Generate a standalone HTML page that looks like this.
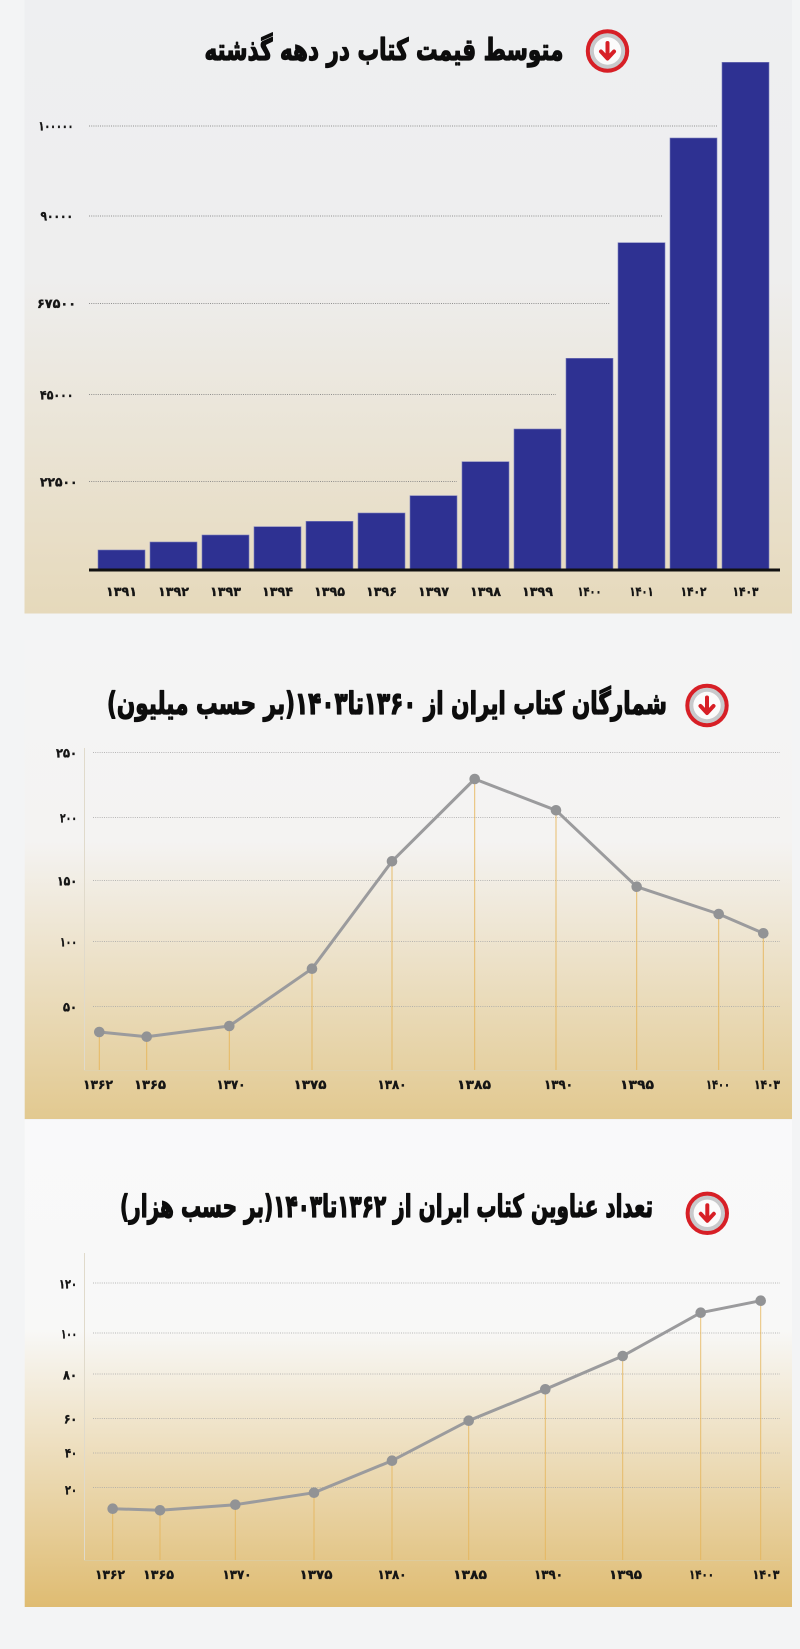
<!DOCTYPE html>
<html>
<head>
<meta charset="utf-8">
<style>
html,body{margin:0;padding:0;background:#f3f4f5;}
svg{display:block;}
.t{font-family:"DejaVu Sans","Liberation Sans",sans-serif;font-weight:bold;fill:#0d0d0d;stroke:#0d0d0d;stroke-width:1.3;stroke-linejoin:round;}
.lb{font-family:"DejaVu Sans","Liberation Sans",sans-serif;font-weight:bold;fill:#151515;stroke:#151515;stroke-width:0.35;font-size:13px;}
</style>
</head>
<body>
<svg width="800" height="1649" viewBox="0 0 800 1649" xmlns="http://www.w3.org/2000/svg">
<defs>
<linearGradient id="g1" gradientUnits="userSpaceOnUse" x1="0" y1="0" x2="0" y2="613">
<stop offset="0" stop-color="#eeeff1"/>
<stop offset="0.45" stop-color="#eeeeee"/>
<stop offset="1" stop-color="#e6d9bb"/>
</linearGradient>
<linearGradient id="g2" gradientUnits="userSpaceOnUse" x1="0" y1="640" x2="0" y2="1119">
<stop offset="0" stop-color="#f4f4f5"/>
<stop offset="0.42" stop-color="#f4f3f2"/>
<stop offset="1" stop-color="#e2c990"/>
</linearGradient>
<linearGradient id="g3" gradientUnits="userSpaceOnUse" x1="0" y1="1120" x2="0" y2="1607">
<stop offset="0" stop-color="#f9f9fa"/>
<stop offset="0.43" stop-color="#f8f8f7"/>
<stop offset="1" stop-color="#dfbc72"/>
</linearGradient>
<g id="icon">
<circle r="19.7" fill="#c8c9cb" stroke="#d71f26" stroke-width="4"/>
<circle r="13.7" fill="#fbfbfb"/>
<path d="M0,-8 V7" stroke="#d71f26" stroke-width="4" stroke-linecap="round" fill="none"/>
<path d="M-6.5,0.5 L0,7.5 L6.5,0.5" stroke="#d71f26" stroke-width="4" stroke-linecap="round" stroke-linejoin="round" fill="none"/>
</g>
</defs>

<rect x="0" y="0" width="800" height="1649" fill="#f3f4f5"/>

<!-- ============ CARD 1 ============ -->
<rect x="24.5" y="0" width="767.5" height="613.5" fill="url(#g1)"/>
<text class="t" x="384" y="60" font-size="30" text-anchor="middle" direction="rtl" textLength="359" lengthAdjust="spacingAndGlyphs">متوسط قیمت کتاب در دهه گذشته</text>
<use href="#icon" x="607.5" y="51"/>

<g stroke="#808080" stroke-width="1" stroke-dasharray="1 1.2" opacity="0.85">
<line x1="89" y1="126" x2="717" y2="126"/>
<line x1="89" y1="216" x2="662" y2="216"/>
<line x1="89" y1="303.5" x2="610" y2="303.5"/>
<line x1="89" y1="394.5" x2="556" y2="394.5"/>
<line x1="89" y1="481.5" x2="457" y2="481.5"/>
</g>
<g class="lb" font-size="13">
<text x="38.5" y="130.5" textLength="35" lengthAdjust="spacingAndGlyphs">۱۰۰۰۰۰</text>
<text x="40.5" y="220.5" textLength="32.5" lengthAdjust="spacingAndGlyphs">۹۰۰۰۰</text>
<text x="37" y="308" textLength="39" lengthAdjust="spacingAndGlyphs">۶۷۵۰۰</text>
<text x="40" y="399.5" textLength="33.5" lengthAdjust="spacingAndGlyphs">۴۵۰۰۰</text>
<text x="40" y="486.5" textLength="37.5" lengthAdjust="spacingAndGlyphs">۲۲۵۰۰</text>
</g>

<g fill="#2e3192" stroke="#7b7dbb" stroke-width="0.6">
<rect x="98" y="550" width="47" height="19"/>
<rect x="150" y="542" width="47" height="27"/>
<rect x="202" y="535" width="47" height="34"/>
<rect x="254" y="526.7" width="47" height="42.3"/>
<rect x="306" y="521.3" width="47" height="47.7"/>
<rect x="358" y="513" width="47" height="56"/>
<rect x="410" y="495.7" width="47" height="73.3"/>
<rect x="462" y="461.7" width="47" height="107.3"/>
<rect x="514" y="429" width="47" height="140"/>
<rect x="566" y="358.3" width="47" height="210.7"/>
<rect x="618" y="242.7" width="47" height="326.3"/>
<rect x="670" y="138" width="47" height="431"/>
<rect x="722" y="62.3" width="47" height="506.7"/>
</g>
<line x1="89" y1="570" x2="780" y2="570" stroke="#111" stroke-width="3"/>
<g class="lb" font-size="15" text-anchor="middle">
<text x="121.5" y="596" textLength="31" lengthAdjust="spacingAndGlyphs">۱۳۹۱</text>
<text x="173.5" y="596" textLength="31" lengthAdjust="spacingAndGlyphs">۱۳۹۲</text>
<text x="225.5" y="596" textLength="31" lengthAdjust="spacingAndGlyphs">۱۳۹۳</text>
<text x="277.5" y="596" textLength="31" lengthAdjust="spacingAndGlyphs">۱۳۹۴</text>
<text x="329.5" y="596" textLength="31" lengthAdjust="spacingAndGlyphs">۱۳۹۵</text>
<text x="381.5" y="596" textLength="31" lengthAdjust="spacingAndGlyphs">۱۳۹۶</text>
<text x="433.5" y="596" textLength="31" lengthAdjust="spacingAndGlyphs">۱۳۹۷</text>
<text x="485.5" y="596" textLength="31" lengthAdjust="spacingAndGlyphs">۱۳۹۸</text>
<text x="537.5" y="596" textLength="31" lengthAdjust="spacingAndGlyphs">۱۳۹۹</text>
<text x="589.5" y="596" textLength="24" lengthAdjust="spacingAndGlyphs">۱۴۰۰</text>
<text x="641.5" y="596" textLength="24" lengthAdjust="spacingAndGlyphs">۱۴۰۱</text>
<text x="693.5" y="596" textLength="26" lengthAdjust="spacingAndGlyphs">۱۴۰۲</text>
<text x="745.5" y="596" textLength="26" lengthAdjust="spacingAndGlyphs">۱۴۰۳</text>
</g>

<!-- ============ CARD 2 ============ -->
<rect x="24.7" y="640" width="767.3" height="479" fill="url(#g2)"/>
<text class="t" x="387" y="714" font-size="31" text-anchor="middle" direction="rtl" textLength="560" lengthAdjust="spacingAndGlyphs">شمارگان کتاب ایران از ۱۳۶۰تا۱۴۰۳(بر حسب میلیون)</text>
<use href="#icon" x="707" y="705.5"/>

<g stroke="#a8a8a8" stroke-width="1" stroke-dasharray="1 1.2" opacity="0.8">
<line x1="93" y1="752.5" x2="780" y2="752.5"/>
<line x1="93" y1="817.5" x2="780" y2="817.5"/>
<line x1="93" y1="880.5" x2="780" y2="880.5"/>
<line x1="93" y1="941.5" x2="780" y2="941.5"/>
<line x1="93" y1="1006.5" x2="780" y2="1006.5"/>
</g>
<line x1="84.5" y1="748" x2="84.5" y2="1070" stroke="#e0dacb" stroke-width="1"/>
<line x1="84" y1="1070.5" x2="780" y2="1070.5" stroke="#e0d2ad" stroke-width="1"/>
<g class="lb" font-size="14" text-anchor="end">
<text x="77" y="757.5" textLength="21" lengthAdjust="spacingAndGlyphs">۲۵۰</text>
<text x="77" y="822.5" textLength="17" lengthAdjust="spacingAndGlyphs">۲۰۰</text>
<text x="77" y="885.5" textLength="20" lengthAdjust="spacingAndGlyphs">۱۵۰</text>
<text x="77" y="946.5" textLength="17" lengthAdjust="spacingAndGlyphs">۱۰۰</text>
<text x="77" y="1011.5" textLength="14" lengthAdjust="spacingAndGlyphs">۵۰</text>
</g>
<g stroke="#e6b457" stroke-width="1" opacity="0.85">
<line x1="99.3" y1="1032" x2="99.3" y2="1070"/>
<line x1="146.7" y1="1036.7" x2="146.7" y2="1070"/>
<line x1="229.3" y1="1026" x2="229.3" y2="1070"/>
<line x1="312" y1="968.7" x2="312" y2="1070"/>
<line x1="392" y1="861.3" x2="392" y2="1070"/>
<line x1="474.7" y1="779" x2="474.7" y2="1070"/>
<line x1="556" y1="810.3" x2="556" y2="1070"/>
<line x1="636.7" y1="886.7" x2="636.7" y2="1070"/>
<line x1="718.7" y1="914" x2="718.7" y2="1070"/>
<line x1="763.3" y1="933.3" x2="763.3" y2="1070"/>
</g>
<polyline fill="none" stroke="#9b9b9d" stroke-width="3" stroke-linejoin="round" points="99.3,1032 146.7,1036.7 229.3,1026 312,968.7 392,861.3 474.7,779 556,810.3 636.7,886.7 718.7,914 763.3,933.3"/>
<g fill="#929395">
<circle cx="99.3" cy="1032" r="5.3"/>
<circle cx="146.7" cy="1036.7" r="5.3"/>
<circle cx="229.3" cy="1026" r="5.3"/>
<circle cx="312" cy="968.7" r="5.3"/>
<circle cx="392" cy="861.3" r="5.3"/>
<circle cx="474.7" cy="779" r="5.3"/>
<circle cx="556" cy="810.3" r="5.3"/>
<circle cx="636.7" cy="886.7" r="5.3"/>
<circle cx="718.7" cy="914" r="5.3"/>
<circle cx="763.3" cy="933.3" r="5.3"/>
</g>
<g class="lb" font-size="15" text-anchor="middle">
<text x="98" y="1089" textLength="30" lengthAdjust="spacingAndGlyphs">۱۳۶۲</text>
<text x="150" y="1089" textLength="32" lengthAdjust="spacingAndGlyphs">۱۳۶۵</text>
<text x="231" y="1089" textLength="29" lengthAdjust="spacingAndGlyphs">۱۳۷۰</text>
<text x="310" y="1089" textLength="33" lengthAdjust="spacingAndGlyphs">۱۳۷۵</text>
<text x="392" y="1089" textLength="29" lengthAdjust="spacingAndGlyphs">۱۳۸۰</text>
<text x="474" y="1089" textLength="34" lengthAdjust="spacingAndGlyphs">۱۳۸۵</text>
<text x="558.5" y="1089" textLength="29" lengthAdjust="spacingAndGlyphs">۱۳۹۰</text>
<text x="637" y="1089" textLength="34" lengthAdjust="spacingAndGlyphs">۱۳۹۵</text>
<text x="718" y="1089" textLength="24" lengthAdjust="spacingAndGlyphs">۱۴۰۰</text>
<text x="767" y="1089" textLength="26" lengthAdjust="spacingAndGlyphs">۱۴۰۳</text>
</g>

<!-- ============ CARD 3 ============ -->
<rect x="24.7" y="1120" width="767.3" height="487" fill="url(#g3)"/>
<text class="t" x="386.5" y="1217" font-size="31" text-anchor="middle" direction="rtl" textLength="533" lengthAdjust="spacingAndGlyphs">تعداد عناوین کتاب ایران از ۱۳۶۲تا۱۴۰۳(بر حسب هزار)</text>
<use href="#icon" x="707.3" y="1213.3"/>

<g stroke="#a8a8a8" stroke-width="1" stroke-dasharray="1 1.2" opacity="0.8">
<line x1="93" y1="1283" x2="780" y2="1283"/>
<line x1="93" y1="1333" x2="780" y2="1333"/>
<line x1="93" y1="1374" x2="780" y2="1374"/>
<line x1="93" y1="1418.5" x2="780" y2="1418.5"/>
<line x1="93" y1="1453" x2="780" y2="1453"/>
<line x1="93" y1="1487.5" x2="780" y2="1487.5"/>
</g>
<line x1="84.5" y1="1253" x2="84.5" y2="1560" stroke="#e0dacb" stroke-width="1"/>
<line x1="84" y1="1560.5" x2="780" y2="1560.5" stroke="#dccb9e" stroke-width="1"/>
<g class="lb" font-size="14" text-anchor="end">
<text x="77" y="1288.5" textLength="18" lengthAdjust="spacingAndGlyphs">۱۲۰</text>
<text x="77" y="1338.5" textLength="16" lengthAdjust="spacingAndGlyphs">۱۰۰</text>
<text x="77" y="1379.5" textLength="14" lengthAdjust="spacingAndGlyphs">۸۰</text>
<text x="77" y="1423.5" textLength="13" lengthAdjust="spacingAndGlyphs">۶۰</text>
<text x="77" y="1457.5" textLength="12" lengthAdjust="spacingAndGlyphs">۴۰</text>
<text x="77" y="1494.5" textLength="12" lengthAdjust="spacingAndGlyphs">۲۰</text>
</g>
<g stroke="#e6b457" stroke-width="1" opacity="0.8">
<line x1="112.7" y1="1508.7" x2="112.7" y2="1560"/>
<line x1="160" y1="1510.3" x2="160" y2="1560"/>
<line x1="235.3" y1="1504.7" x2="235.3" y2="1560"/>
<line x1="314" y1="1492.7" x2="314" y2="1560"/>
<line x1="392" y1="1460.7" x2="392" y2="1560"/>
<line x1="468.7" y1="1420.7" x2="468.7" y2="1560"/>
<line x1="545.3" y1="1389.3" x2="545.3" y2="1560"/>
<line x1="622.7" y1="1356" x2="622.7" y2="1560"/>
<line x1="700.7" y1="1312.7" x2="700.7" y2="1560"/>
<line x1="760.7" y1="1300.7" x2="760.7" y2="1560"/>
</g>
<polyline fill="none" stroke="#9b9b9d" stroke-width="3" stroke-linejoin="round" points="112.7,1508.7 160,1510.3 235.3,1504.7 314,1492.7 392,1460.7 468.7,1420.7 545.3,1389.3 622.7,1356 700.7,1312.7 760.7,1300.7"/>
<g fill="#929395">
<circle cx="112.7" cy="1508.7" r="5.3"/>
<circle cx="160" cy="1510.3" r="5.3"/>
<circle cx="235.3" cy="1504.7" r="5.3"/>
<circle cx="314" cy="1492.7" r="5.3"/>
<circle cx="392" cy="1460.7" r="5.3"/>
<circle cx="468.7" cy="1420.7" r="5.3"/>
<circle cx="545.3" cy="1389.3" r="5.3"/>
<circle cx="622.7" cy="1356" r="5.3"/>
<circle cx="700.7" cy="1312.7" r="5.3"/>
<circle cx="760.7" cy="1300.7" r="5.3"/>
</g>
<g class="lb" font-size="15" text-anchor="middle">
<text x="110" y="1579" textLength="30" lengthAdjust="spacingAndGlyphs">۱۳۶۲</text>
<text x="158.5" y="1579" textLength="31" lengthAdjust="spacingAndGlyphs">۱۳۶۵</text>
<text x="237" y="1579" textLength="29" lengthAdjust="spacingAndGlyphs">۱۳۷۰</text>
<text x="316" y="1579" textLength="33" lengthAdjust="spacingAndGlyphs">۱۳۷۵</text>
<text x="392" y="1579" textLength="29" lengthAdjust="spacingAndGlyphs">۱۳۸۰</text>
<text x="470" y="1579" textLength="34" lengthAdjust="spacingAndGlyphs">۱۳۸۵</text>
<text x="548.5" y="1579" textLength="29" lengthAdjust="spacingAndGlyphs">۱۳۹۰</text>
<text x="625.5" y="1579" textLength="33" lengthAdjust="spacingAndGlyphs">۱۳۹۵</text>
<text x="701.5" y="1579" textLength="25" lengthAdjust="spacingAndGlyphs">۱۴۰۰</text>
<text x="766" y="1579" textLength="27" lengthAdjust="spacingAndGlyphs">۱۴۰۳</text>
</g>
</svg>
</body>
</html>
